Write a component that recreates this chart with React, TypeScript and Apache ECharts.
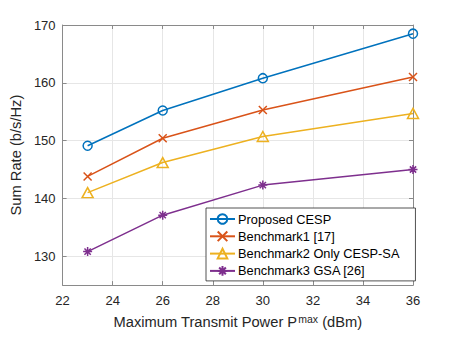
import React, { useEffect, useRef } from "react";
import * as echarts from "echarts";

const xValues = [23, 26, 30, 36];
const proposedCESP = [149.1, 155.2, 160.8, 168.5];
const benchmark1 = [143.8, 150.4, 155.3, 161.0];
const benchmark2 = [141.0, 146.2, 150.7, 154.7];
const benchmark3 = [130.8, 137.1, 142.3, 145.0];
const seriesNames = [
  "Proposed CESP",
  "Benchmark1 [17]",
  "Benchmark2 Only CESP-SA",
  "Benchmark3 GSA [26]",
];
const yTickValues = [130, 140, 150, 160, 170];

const colors = ["#0072BD", "#D95319", "#EDB120", "#7E2F8E"];
const symbols = [
  "circle",
  "path://M0,0L10,10M10,0L0,10",
  "triangle",
  "path://M5,0L5,10M0,5L10,5M1.5,1.5L8.5,8.5M8.5,1.5L1.5,8.5",
];
const symbolSizes = [9, 8, [11, 10], 9];
const FONT = "'Liberation Sans', Arial, Helvetica, sans-serif";
const AXIS_COLOR = "#8a8a8a";
const TEXT_COLOR = "#262626";

export default function App() {
  const ref = useRef<HTMLDivElement>(null);
  useEffect(() => {
    if (!ref.current) return;
    const chart = echarts.init(ref.current, null, { renderer: "svg" });
    const allData = [proposedCESP, benchmark1, benchmark2, benchmark3];
    const axisLineStyle = { show: true, onZero: false, lineStyle: { color: AXIS_COLOR, width: 1 } };
    const tickStyle = { show: true, inside: true, length: 4, lineStyle: { color: AXIS_COLOR, width: 1 } };
    chart.setOption({
      animation: false,
      backgroundColor: "#fff",
      textStyle: { fontFamily: FONT },
      grid: { left: 59, top: 25, width: 354, height: 262, containLabel: false },
      xAxis: [
        {
          type: "value",
          min: 22,
          max: 36,
          interval: 2,
          position: "bottom",
          name: "Maximum Transmit Power P{sup|max} (dBm)",
          nameLocation: "middle",
          nameGap: 24,
          nameTextStyle: {
            fontSize: 14.7,
            color: TEXT_COLOR,
            fontFamily: FONT,
            lineHeight: 20,
            rich: {
              sup: { fontSize: 10.5, color: TEXT_COLOR, fontFamily: FONT, verticalAlign: "top", lineHeight: 11, padding: [1, 0, 0, 1] },
            },
          },
          axisLine: axisLineStyle,
          axisTick: tickStyle,
          axisLabel: { fontSize: 13, color: TEXT_COLOR, margin: 9, fontFamily: FONT },
          splitLine: { show: true, lineStyle: { color: "#e6e6e6", width: 1 } },
        },
        {
          type: "value",
          min: 22,
          max: 36,
          interval: 2,
          position: "top",
          axisLine: axisLineStyle,
          axisTick: tickStyle,
          axisLabel: { show: false },
          splitLine: { show: false },
        },
      ],
      yAxis: [
        {
          type: "value",
          min: 125,
          max: 170,
          position: "left",
          name: "Sum Rate (b/s/Hz)",
          nameLocation: "middle",
          nameGap: 36,
          nameTextStyle: { fontSize: 14.7, color: TEXT_COLOR, fontFamily: FONT },
          axisLine: axisLineStyle,
          axisTick: { ...tickStyle, customValues: yTickValues },
          axisLabel: { fontSize: 13, color: TEXT_COLOR, margin: 7, fontFamily: FONT, customValues: yTickValues },
          splitLine: { show: true, lineStyle: { color: "#e6e6e6", width: 1 } },
        },
        {
          type: "value",
          min: 125,
          max: 170,
          position: "right",
          axisLine: axisLineStyle,
          axisTick: { ...tickStyle, customValues: yTickValues },
          axisLabel: { show: false },
          splitLine: { show: false },
        },
      ],
      legend: {
        orient: "vertical",
        left: 206,
        top: 208,
        padding: [4, 16, 3, 3],
        itemGap: 3.3,
        itemWidth: 25,
        itemHeight: 12,
        borderColor: "#262626",
        borderWidth: 0.8,
        borderRadius: 0,
        backgroundColor: "#fff",
        textStyle: { fontSize: 12.8, color: "#000", fontFamily: FONT, lineHeight: 14, padding: [0, 0, 0, -2] },
        data: seriesNames,
      },
      series: allData.map((d, i) => ({
        name: seriesNames[i],
        type: "line",
        xAxisIndex: 0,
        yAxisIndex: 0,
        data: xValues.map((x, j) => [x, d[j]]),
        color: colors[i],
        symbol: symbols[i],
        symbolSize: symbolSizes[i],
        showAllSymbol: true,
        lineStyle: { color: colors[i], width: 1.5 },
        itemStyle: { color: "rgba(255,255,255,0)", borderColor: colors[i], borderWidth: 1.5 },
        emphasis: { disabled: true },
        z: 10 - i,
      })),
    });
    return () => chart.dispose();
  }, []);
  return (
    <div
      ref={ref}
      style={{ position: "fixed", left: 0, top: 0, width: 457, height: 337, background: "#fff" }}
    />
  );
}
